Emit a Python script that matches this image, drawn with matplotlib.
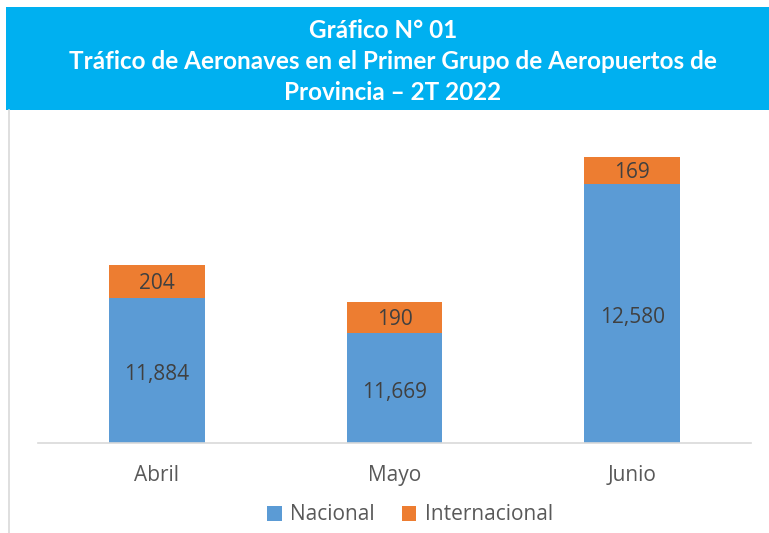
import matplotlib
matplotlib.use('Agg')
import matplotlib.pyplot as plt
from matplotlib.patches import Rectangle
import numpy as np

# data
meses = ['Abril', 'Mayo', 'Junio']
nacional = [11884, 11669, 12580]
internacional = [204, 190, 169]

title_lines = ['Gráfico N° 01',
               'Tráfico de Aeronaves en el Primer Grupo de Aeropuertos de',
               'Provincia \u2013 2T 2022']

azul = '#5B9BD5'
naranja = '#ED7D31'
banner = '#00B0F0'
gris_texto = '#595959'

W, H = 769, 533
fig = plt.figure(figsize=(W / 100, H / 100), dpi=100)
fig.patch.set_facecolor('white')

# title banner
fig.add_artist(Rectangle((6 / W, 1 - 110 / H), 1 - 6 / W, 103 / H,
                         transform=fig.transFigure, facecolor=banner,
                         edgecolor='none', zorder=0))
# thin gray frame on the left
fig.add_artist(plt.Line2D([8.5 / W, 8.5 / W], [0, 1 - 110 / H],
                          transform=fig.transFigure, color='#d9d9d9', lw=1.2))

# baselines / centres in px
for txt, xpx, ypx in zip(title_lines, [383, 393, 393], [38, 69, 100]):
    fig.text(xpx / W, 1 - ypx / H, txt, ha='center', va='baseline',
             color='white', fontsize=17.5, fontweight='bold', family='Lato')

ax = fig.add_axes([38 / W, 1 - 442.5 / H, 713 / W, 326.8 / H])
x = np.arange(len(meses))
ancho = 0.403
b1 = ax.bar(x, nacional, ancho, color=azul, label='Nacional')
b2 = ax.bar(x, internacional, ancho, bottom=nacional, color=naranja,
            label='Internacional')

ymin, ymax = 11000, 13000
ax.set_ylim(ymin, ymax)
ax.set_xlim(-0.5, 2.5)

for xi, n, i in zip(x, nacional, internacional):
    ax.annotate(f'{n:,}', (xi, (ymin + n) / 2), xytext=(0, -3),
                textcoords='offset points', ha='center', va='center',
                fontsize=15, color='#404040', family='Open Sans')
    ax.annotate(f'{i:,}', (xi, n + i / 2), xytext=(0, -1.5),
                textcoords='offset points', ha='center', va='center',
                fontsize=15, color='#404040', family='Open Sans')

for s in ['top', 'right', 'left']:
    ax.spines[s].set_visible(False)
ax.spines['bottom'].set_color('#d9d9d9')
ax.spines['bottom'].set_linewidth(1.2)
ax.set_yticks([])
ax.set_xticks(x)
ax.set_xticklabels(meses, fontsize=15, color=gris_texto, family='Open Sans')
ax.tick_params(axis='x', length=0, pad=16)

leg = fig.legend(handles=[b1, b2], loc='center', bbox_to_anchor=(410 / W, 1 - 515 / H),
                 ncol=2, frameon=False, handlelength=0.7, handleheight=0.7,
                 handletextpad=0.4, columnspacing=1.3,
                 prop={'family': 'Open Sans', 'size': 15})
for t in leg.get_texts():
    t.set_color(gris_texto)

fig.savefig('out.png', dpi=100, facecolor='white')
